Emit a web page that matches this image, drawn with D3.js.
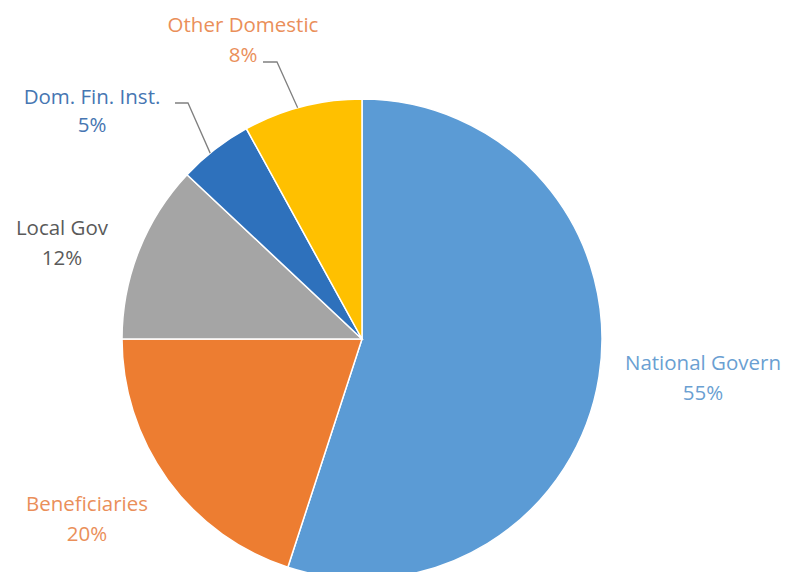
<!DOCTYPE html>
<html><head><meta charset="utf-8">
<script src="https://cdn.jsdelivr.net/npm/d3@7"></script>
<style>body{margin:0;background:#fff}svg{display:block}</style>
</head><body>
<script>
const categories = ["National Govern","Beneficiaries","Local Gov","Dom. Fin. Inst.","Other Domestic"];
const values = [55,20,12,5,8];
const percentLabels = ["55%","20%","12%","5%","8%"];
const sliceColors = ["#5B9BD5","#ED7D31","#A5A5A5","#2E71BC","#FFC000"];
const textColors = ["#6A9FD2","#EA8F5A","#5A5A5A","#4676B2","#EA8F5A"];

const W=796,H=572, cx=362, cy=339, R=240;
const svg=d3.select("body").append("svg").attr("width",W).attr("height",H);
const g=svg.append("g").attr("transform",`translate(${cx},${cy})`);
const pie=d3.pie().sort(null).value(d=>d)(values);
const arc=d3.arc().innerRadius(0).outerRadius(R);
g.selectAll("path").data(pie).join("path")
 .attr("d",arc).attr("fill",(d,i)=>sliceColors[i])
 .attr("stroke","#fff").attr("stroke-width",1.5);

const labelPos=[[703,370],[87,511],[62,235],[92,104],[243,32]];
const lg=svg.append("g").attr("font-family","'Open Sans', Lato, sans-serif").attr("font-size",20.5).attr("text-anchor","middle");
categories.forEach((c,i)=>{
  const t=lg.append("text").attr("x",labelPos[i][0]).attr("y",labelPos[i][1]).attr("fill",textColors[i]);
  t.append("tspan").attr("x",labelPos[i][0]).text(c);
  t.append("tspan").attr("x",labelPos[i][0]).attr("dy",i===3?28:30).text(percentLabels[i]);
});

function edgePoint(angle){return [cx+R*Math.sin(angle), cy-R*Math.cos(angle)];}
const leaders=[[3,[175,103],[188,103],0.42],[4,[263,62],[277,62],0.46]];
leaders.forEach(([i,p0,p1,f])=>{
  const d=pie[i];
  const e=edgePoint(d.startAngle+(d.endAngle-d.startAngle)*f);
  svg.append("polyline").attr("points",[p0,p1,e].map(p=>p.join(",")).join(" "))
   .attr("fill","none").attr("stroke","#808080").attr("stroke-width",1.3);
});
</script>
</body></html>
